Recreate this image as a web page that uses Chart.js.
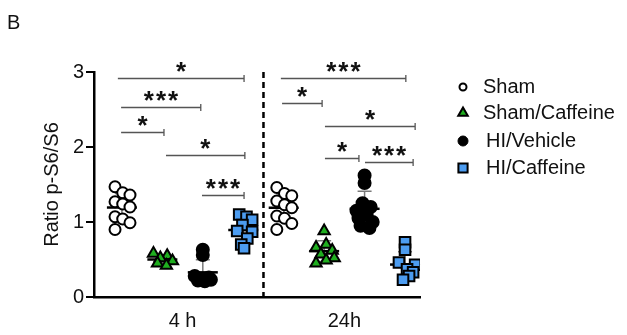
<!DOCTYPE html>
<html>
<head>
<meta charset="utf-8">
<script src="https://cdn.jsdelivr.net/npm/chart.js@4.4.1/dist/chart.umd.min.js"></script>
<style>
  html, body { margin: 0; padding: 0; background: #fff; }
  #wrap { width: 627px; height: 335px; position: relative; }
</style>
</head>
<body>
<div id="wrap"><canvas id="c" width="627" height="335"></canvas></div>
<script>
// Treatment groups, time points and axis ticks
const treatments = ['Sham', 'Sham/Caffeine', 'HI/Vehicle', 'HI/Caffeine'];
const timePoints = ['4 h', '24h'];
const yTickValues = [0, 1, 2, 3];

// Ratio p-S6/S6 per animal, 4 h
const sham4h    = [1.47, 1.39, 1.36, 1.27, 1.24, 1.20, 1.07, 1.04, 0.99, 0.90];
const shamCaf4h = [0.58, 0.55, 0.52, 0.48, 0.45, 0.42];
const hiVeh4h   = [0.63, 0.56, 0.28, 0.26, 0.24, 0.23, 0.22, 0.21];
const hiCaf4h   = [1.10, 1.07, 1.03, 0.96, 0.88, 0.87, 0.78, 0.70, 0.65];

// Ratio p-S6/S6 per animal, 24 h
const sham24h    = [1.46, 1.38, 1.35, 1.28, 1.23, 1.19, 1.08, 1.05, 0.98, 0.90];
const shamCaf24h = [0.88, 0.70, 0.66, 0.62, 0.57, 0.52, 0.49, 0.45];
const hiVeh24h   = [1.62, 1.52, 1.25, 1.20, 1.15, 1.10, 1.05, 1.00, 0.95, 0.92];
const hiCaf24h   = [0.73, 0.63, 0.46, 0.43, 0.37, 0.33, 0.28, 0.23];

// Horizontal scatter of the points inside each group (category units)
const sham4hJitter    = [-0.17, 0.02, 0.20, -0.17, 0.02, 0.20, -0.17, 0.02, 0.20, -0.17];
const shamCaf4hJitter = [-0.22, 0.12, -0.05, 0.25, -0.12, 0.10];
const hiVeh4hJitter   = [0.0, 0.0, -0.20, 0.15, -0.05, 0.20, -0.12, 0.05];
const hiCaf4hJitter   = [-0.10, 0.08, 0.22, -0.02, -0.15, 0.22, 0.10, -0.05, 0.02];
const sham24hJitter    = [-0.17, 0.02, 0.20, -0.17, 0.02, 0.20, -0.17, 0.02, 0.20, -0.17];
const shamCaf24hJitter = [0.0, 0.05, -0.20, 0.20, -0.08, 0.25, 0.05, -0.20];
const hiVeh24hJitter   = [0.0, 0.0, -0.05, 0.15, -0.20, 0.05, -0.15, 0.20, -0.10, 0.12];
const hiCaf24hJitter   = [0.0, 0.0, -0.15, 0.25, 0.05, 0.20, 0.10, -0.05];

// Pairwise comparisons: [from x, to x, height, significance]
const comparisons = [
  [-0.10, 3.02, 2.92, '*'],
  [-0.02, 1.95, 2.53, '***'],
  [-0.02, 1.04, 2.20, '*'],
  [ 1.09, 3.04, 1.89, '*'],
  [ 1.98, 3.02, 1.36, '***'],
  [ 3.93, 7.02, 2.92, '***'],
  [ 3.96, 4.95, 2.59, '*'],
  [ 5.02, 7.25, 2.28, '*'],
  [ 5.02, 5.86, 1.85, '*'],
  [ 6.01, 7.20, 1.80, '***']
];

const FONT = '"Liberation Sans", Arial, sans-serif';

const groups = [
  { values: sham4h,     jitter: sham4hJitter,     pos: 0 },
  { values: shamCaf4h,  jitter: shamCaf4hJitter,  pos: 1 },
  { values: hiVeh4h,    jitter: hiVeh4hJitter,    pos: 2 },
  { values: hiCaf4h,    jitter: hiCaf4hJitter,    pos: 3 },
  { values: sham24h,    jitter: sham24hJitter,    pos: 4 },
  { values: shamCaf24h, jitter: shamCaf24hJitter, pos: 5 },
  { values: hiVeh24h,   jitter: hiVeh24hJitter,   pos: 6 },
  { values: hiCaf24h,   jitter: hiCaf24hJitter,   pos: 7 }
];

function pts(g) {
  return g.values.map((v, i) => ({ x: g.pos + g.jitter[i], y: v }));
}

const styles = [
  { pointStyle: 'circle',   radius: 5.5, bg: '#ffffff', border: '#000000' },
  { pointStyle: 'triangle', radius: 6.5, bg: '#1fae1f', border: '#000000' },
  { pointStyle: 'circle',   radius: 6,   bg: '#000000', border: '#000000' },
  { pointStyle: 'rect',     radius: 7.5, bg: '#4c9cf0', border: '#000000' }
];

const datasets = treatments.map((name, k) => ({
  label: name,
  data: pts(groups[k]).concat(pts(groups[k + 4])),
  pointStyle: styles[k].pointStyle,
  pointRadius: styles[k].radius,
  pointBackgroundColor: styles[k].bg,
  pointBorderColor: styles[k].border,
  pointBorderWidth: 2,
  showLine: false
}));

function meanSd(a) {
  const m = a.reduce((s, v) => s + v, 0) / a.length;
  const v = a.reduce((s, x) => s + (x - m) * (x - m), 0) / (a.length - 1);
  return [m, Math.sqrt(v)];
}

// Separator, error bars and group means, beneath the points
const underlay = {
  id: 'underlay',
  beforeDatasetsDraw(chart) {
    const { ctx, scales: { x, y } } = chart;
    ctx.save();
    // dashed separator between time points
    ctx.strokeStyle = '#000';
    ctx.lineWidth = 2.5;
    ctx.setLineDash([6, 4]);
    ctx.beginPath();
    ctx.moveTo(x.getPixelForValue(3.5), y.getPixelForValue(3));
    ctx.lineTo(x.getPixelForValue(3.5), y.getPixelForValue(0));
    ctx.stroke();
    ctx.setLineDash([]);
    groups.forEach(g => {
      const [m, sd] = meanSd(g.values);
      const cx = x.getPixelForValue(g.pos);
      const top = y.getPixelForValue(m + sd);
      const bot = y.getPixelForValue(m - sd);
      ctx.strokeStyle = '#7a7a7a';
      ctx.lineWidth = 1.5;
      ctx.beginPath();
      ctx.moveTo(cx, top); ctx.lineTo(cx, bot);
      ctx.moveTo(cx - 7, top); ctx.lineTo(cx + 7, top);
      ctx.moveTo(cx - 7, bot); ctx.lineTo(cx + 7, bot);
      ctx.stroke();
      const my = y.getPixelForValue(m);
      ctx.strokeStyle = '#000';
      ctx.lineWidth = 2.5;
      ctx.beginPath();
      ctx.moveTo(cx - 15, my); ctx.lineTo(cx + 15, my);
      ctx.stroke();
    });
    ctx.restore();
  }
};

// Significance bars, legend and panel letter
const overlay = {
  id: 'overlay',
  afterDraw(chart) {
    const { ctx, scales: { x, y } } = chart;
    ctx.save();
    comparisons.forEach(([a, b, h, stars]) => {
      const x1 = x.getPixelForValue(a), x2 = x.getPixelForValue(b);
      const py = Math.round(y.getPixelForValue(h)) + 0.5;
      ctx.strokeStyle = '#555';
      ctx.lineWidth = 1.3;
      ctx.beginPath();
      ctx.moveTo(x1, py); ctx.lineTo(x2, py);
      ctx.moveTo(x2, py - 3.5); ctx.lineTo(x2, py + 3.5);
      ctx.stroke();
      ctx.fillStyle = '#111';
      ctx.font = 'bold 26px ' + FONT;
      ctx.textAlign = 'center';
      ctx.textBaseline = 'alphabetic';
      ctx.letterSpacing = '2px';
      ctx.fillText(stars, (x1 + x2) / 2 + 1, py + 1);
    });
    ctx.letterSpacing = '0px';

    // legend
    const rows = [87, 113, 141, 168];
    const legendMarks = [
      { pointStyle: 'circle',   radius: 3.5, bg: '#fff',    w: 2 },
      { pointStyle: 'triangle', radius: 5.5, bg: '#1fae1f', w: 2 },
      { pointStyle: 'circle',   radius: 5,   bg: '#000',    w: 1 },
      { pointStyle: 'rect',     radius: 6.5, bg: '#4c9cf0', w: 2 }
    ];
    treatments.forEach((name, k) => {
      const m = legendMarks[k];
      ctx.fillStyle = m.bg;
      ctx.strokeStyle = '#000';
      ctx.lineWidth = m.w;
      Chart.helpers.drawPoint(ctx, { pointStyle: m.pointStyle, radius: m.radius, rotation: 0, borderWidth: m.w }, 463, rows[k]);
      ctx.fillStyle = '#111';
      ctx.font = '20px ' + FONT;
      ctx.textAlign = 'left';
      ctx.textBaseline = 'middle';
      ctx.fillText(name, k >= 2 ? 486 : 483, rows[k]);
    });

    ctx.fillStyle = '#111';
    ctx.font = '20px ' + FONT;
    ctx.textAlign = 'left';
    ctx.textBaseline = 'top';
    ctx.fillText('B', 7, 13);
    ctx.restore();
  }
};

new Chart(document.getElementById('c'), {
  type: 'scatter',
  data: { datasets },
  plugins: [underlay, overlay],
  options: {
    responsive: false,
    animation: false,
    events: [],
    layout: { padding: { top: 72, right: 207, left: 0, bottom: 0 } },
    plugins: { legend: { display: false }, tooltip: { enabled: false } },
    scales: {
      x: {
        type: 'linear',
        min: -0.69,
        max: 7.37,
        afterFit(s) { s.height = 38; },
        afterBuildTicks(s) { s.ticks = [{ value: 1.5 }, { value: 5.5 }]; },
        grid: { display: false },
        border: { display: true, color: '#000', width: 2.5 },
        ticks: {
          autoSkip: false,
          maxRotation: 0,
          padding: 4,
          color: '#111',
          font: { family: FONT, size: 20 },
          callback: v => (v === 1.5 ? timePoints[0] : timePoints[1])
        }
      },
      y: {
        min: 0,
        max: 3,
        afterFit(s) { s.width = 94; },
        afterBuildTicks(s) { s.ticks = yTickValues.map(v => ({ value: v })); },
        grid: { display: true, drawOnChartArea: false, drawTicks: true, tickLength: 8, color: '#000', lineWidth: 2 },
        border: { display: true, color: '#000', width: 2.5 },
        ticks: { padding: 2, color: '#111', font: { family: FONT, size: 20 } },
        title: {
          display: true,
          text: 'Ratio p-S6/S6',
          color: '#111',
          font: { family: FONT, size: 20 },
          padding: { top: 40, bottom: 0 }
        }
      }
    }
  }
});
</script>
</body>
</html>
